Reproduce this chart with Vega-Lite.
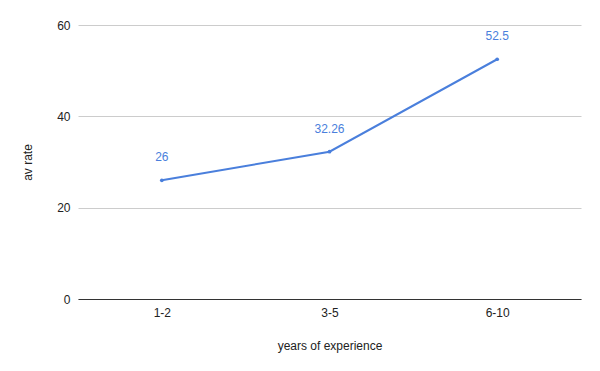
{
  "$schema": "https://vega.github.io/schema/vega-lite/v6.json",
  "width": 503,
  "height": 274,
  "autosize": {"type": "none"},
  "padding": {"left": 78, "top": 25, "right": 19, "bottom": 72},
  "background": "white",
  "config": {
    "font": "Liberation Sans",
    "view": {"stroke": null},
    "axis": {"labelFont": "Liberation Sans", "titleFont": "Liberation Sans", "labelColor": "#222", "titleColor": "#222", "labelFontSize": 12, "titleFontSize": 12, "titleFontWeight": "normal"}
  },
  "data": {"values": [
    {"years": "1-2", "rate": 26},
    {"years": "3-5", "rate": 32.26},
    {"years": "6-10", "rate": 52.5}
  ]},
  "encoding": {
    "x": {"field": "years", "type": "ordinal", "sort": null, "scale": {"type": "point", "padding": 0.5},
      "axis": {"title": "years of experience", "labelAngle": 0, "ticks": false, "domainColor": "#333", "domainWidth": 1, "labelPadding": 8, "titlePadding": 22, "grid": false}},
    "y": {"field": "rate", "type": "quantitative", "scale": {"domain": [0, 60]},
      "axis": {"title": "av rate", "values": [0, 20, 40, 60], "ticks": false, "domain": false, "gridColor": "#cccccc", "labelPadding": 8, "titlePadding": 22}}
  },
  "layer": [
    {"mark": {"type": "line", "color": "#4a7fdc", "strokeWidth": 2, "point": {"filled": true, "size": 14, "color": "#4a7fdc"}}},
    {"mark": {"type": "text", "dy": -23, "color": "#4a7fdc", "fontSize": 12, "font": "Liberation Sans"}, "encoding": {"text": {"field": "rate", "type": "quantitative"}}}
  ]
}
